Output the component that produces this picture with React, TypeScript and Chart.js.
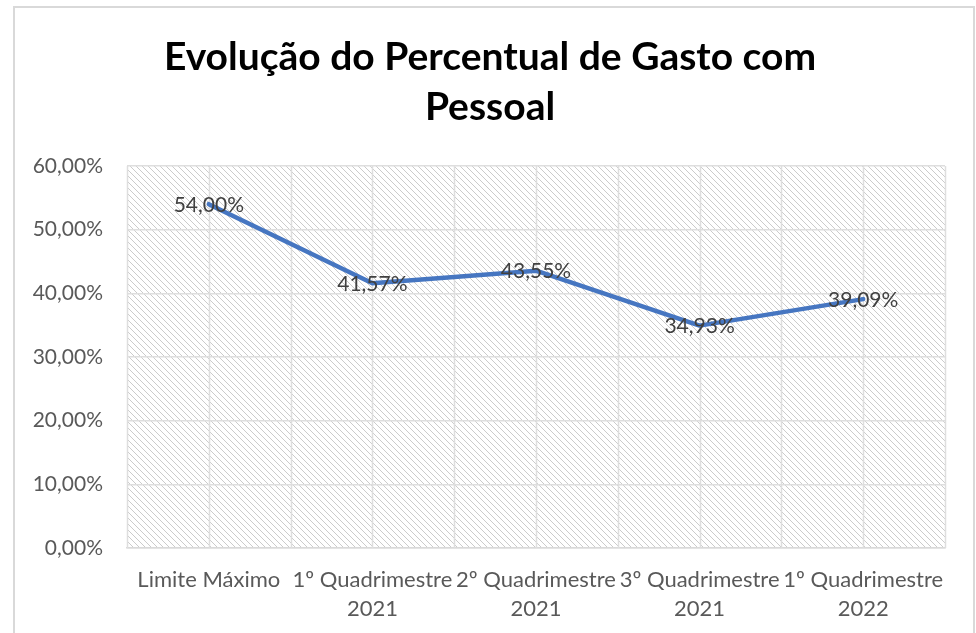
import { useEffect, useRef } from "react";
import { Chart, registerables } from "chart.js";

Chart.register(...registerables);

const titleLines: string[] = ["Evolução do Percentual de Gasto com", "Pessoal"];
const categories: string[][] = [
  ["Limite Máximo"],
  ["1º Quadrimestre", "2021"],
  ["2º Quadrimestre", "2021"],
  ["3º Quadrimestre", "2021"],
  ["1º Quadrimestre", "2022"],
];
const values: number[] = [54.0, 41.57, 43.55, 34.93, 39.09];
const yMin = 0;
const yMax = 60;
const yStep = 10;

const fmt = (v: number) => v.toFixed(2).replace(".", ",") + "%";

const FONT = "Lato, 'Open Sans', sans-serif";

function makePattern(ctx: CanvasRenderingContext2D): CanvasPattern | string {
  const size = 6;
  const c = document.createElement("canvas");
  c.width = size;
  c.height = size;
  const p = c.getContext("2d");
  if (!p) return "#ffffff";
  p.fillStyle = "#ffffff";
  p.fillRect(0, 0, size, size);
  p.strokeStyle = "#cbcbcb";
  p.lineWidth = 1;
  p.beginPath();
  p.moveTo(-1, -1);
  p.lineTo(size + 1, size + 1);
  p.moveTo(-size - 1, -1);
  p.lineTo(1, size + 1);
  p.moveTo(size - 1, -size - 1);
  p.lineTo(size * 2 + 1, size + 1);
  p.stroke();
  return ctx.createPattern(c, "repeat") || "#ffffff";
}

const decorPlugin = {
  id: "decor",
  beforeDraw(chart: any) {
    const { ctx, chartArea } = chart;
    ctx.save();
    ctx.fillStyle = "#ffffff";
    ctx.fillRect(0, 0, chart.width, chart.height);
    // outer frame
    ctx.strokeStyle = "#d9d9d9";
    ctx.lineWidth = 2;
    ctx.strokeRect(14, 7, 960, chart.height + 20);
    // hatch background
    ctx.fillStyle = makePattern(ctx);
    ctx.fillRect(chartArea.left, chartArea.top, chartArea.right - chartArea.left, chartArea.bottom - chartArea.top);
    // title
    ctx.fillStyle = "#000000";
    ctx.font = `bold 39px ${FONT}`;
    ctx.textAlign = "center";
    ctx.textBaseline = "alphabetic";
    const cx = 490;
    ctx.fillText(titleLines[0], cx, 70);
    ctx.fillText(titleLines[1], cx, 120);
    ctx.restore();
  },
  beforeDatasetsDraw(chart: any) {
    const { ctx, chartArea } = chart;
    const x = chart.scales.x;
    ctx.save();
    ctx.strokeStyle = "#dedede";
    ctx.lineWidth = 1.5;
    for (let i = 0; i <= categories.length * 2; i++) {
      const px = Math.round(x.getPixelForValue(i / 2 - 0.5)) + 0.5;
      ctx.beginPath();
      ctx.moveTo(px, chartArea.top);
      ctx.lineTo(px, chartArea.bottom);
      ctx.stroke();
    }
    ctx.restore();
  },
  afterDatasetsDraw(chart: any) {
    const { ctx } = chart;
    const meta = chart.getDatasetMeta(0);
    ctx.save();
    ctx.fillStyle = "#404040";
    ctx.font = `21px ${FONT}`;
    ctx.textAlign = "center";
    ctx.textBaseline = "middle";
    meta.data.forEach((pt: any, i: number) => {
      ctx.fillText(fmt(values[i]), pt.x, pt.y + 1);
    });
    ctx.restore();
  },
};

export default function App() {
  const ref = useRef<HTMLCanvasElement | null>(null);
  useEffect(() => {
    if (!ref.current) return;
    const chart = new Chart(ref.current, {
      type: "line",
      data: {
        labels: categories,
        datasets: [
          {
            data: values,
            borderColor: "rgb(70,118,193)",
            borderWidth: 4.5,
            pointRadius: 0,
            pointHoverRadius: 0,
            tension: 0,
            fill: false,
            borderCapStyle: "round",
            borderJoinStyle: "round",
          },
        ],
      },
      options: {
        animation: false,
        responsive: true,
        maintainAspectRatio: false,
        layout: { padding: { top: 166, left: 20, right: 31, bottom: 0 } },
        plugins: {
          legend: { display: false },
          title: { display: false },
          tooltip: { enabled: false },
        },
        scales: {
          x: {
            offset: true,
            grid: { display: false, drawTicks: false },
            border: { display: true, color: "#d9d9d9", width: 1.5 },
            ticks: {
              color: "#595959",
              font: { family: FONT, size: 22, lineHeight: 1.3 },
              padding: 18,
              maxRotation: 0,
              minRotation: 0,
              autoSkip: false,
            },
            afterFit(scale: any) {
              scale.height = 85;
              scale.paddingLeft = 0;
              scale.paddingRight = 0;
            },
          },
          y: {
            min: yMin,
            max: yMax,
            grid: { color: "#dedede", lineWidth: 1.5, drawTicks: false },
            border: { display: false },
            ticks: {
              stepSize: yStep,
              color: "#595959",
              font: { family: FONT, size: 21 },
              padding: 24,
              callback: (v: any) => fmt(Number(v)),
            },
            afterFit(scale: any) {
              scale.width = 107;
              scale.paddingTop = 0;
              scale.paddingBottom = 0;
            },
          },
        },
      },
      plugins: [decorPlugin],
    });
    return () => chart.destroy();
  }, []);
  return (
    <div style={{ position: "fixed", left: 0, top: 0, width: 976, height: 633 }}>
      <canvas ref={ref} />
    </div>
  );
}
